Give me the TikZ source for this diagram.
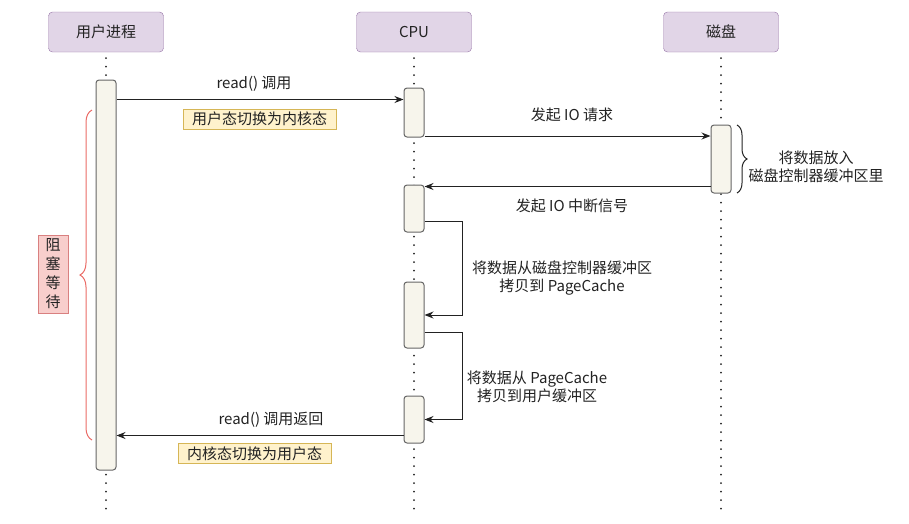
\documentclass[tikz,border=0pt]{standalone}
\usepackage{fontspec}
\setmainfont{Noto Sans CJK SC}
\usetikzlibrary{arrows.meta,decorations.pathreplacing,calc}
\definecolor{actfill}{HTML}{E1D5E7}
\definecolor{actdraw}{HTML}{9673A6}
\definecolor{barfill}{HTML}{F7F5EC}
\definecolor{bardraw}{HTML}{666666}
\definecolor{notefill}{HTML}{FFF2CC}
\definecolor{notedraw}{HTML}{D6B656}
\definecolor{redfill}{HTML}{F8CECC}
\definecolor{reddraw}{HTML}{D98080}
\definecolor{bracered}{HTML}{EA6B66}
\definecolor{ink}{HTML}{222222}
\begin{document}
\begin{tikzpicture}[x=1pt,y=-1pt,
  actor/.style={draw=actdraw,fill=actfill,rounded corners=4pt,minimum width=115pt,minimum height=40pt,inner sep=0pt,font=\fontsize{15}{17}\selectfont,text=ink},
  bar/.style={draw=bardraw,fill=barfill,rounded corners=3pt,minimum width=20pt,inner sep=0pt,line width=1pt},
  lifeline/.style={draw=ink,line width=2pt,line cap=round,dash pattern=on 0pt off 8.5pt},
  msg/.style={draw=ink,line width=1pt,-{Stealth[length=9pt,width=7pt]}},
  lbl/.style={font=\fontsize{15}{18}\selectfont,text=ink,align=center,inner sep=0pt},
  note/.style={draw=notedraw,fill=notefill,font=\fontsize{15}{17}\selectfont,text=ink,inner sep=0pt,minimum height=20pt,minimum width=153pt}
]
\useasboundingbox (0,0) rectangle (909,523);

% actors
\node[actor] (up) at (106,32) {用户进程};
\node[actor] (cpu) at (414,32) {CPU};
\node[actor] (disk) at (721,32) {磁盘};

% lifeline ends
\coordinate (ue) at (106,515);
\coordinate (ce) at (414,515);
\coordinate (de) at (721,515);
\draw[lifeline] ([yshift=-6pt]up.south) -- (ue);
\draw[lifeline] ([yshift=-6pt]cpu.south) -- (ce);
\draw[lifeline] ([yshift=-6pt]disk.south) -- (de);

% activation bars
\node[bar,minimum height=390pt] (ub) at (106,275) {};
\node[bar,minimum height=49pt] (cb1) at (414,112.5) {};
\node[bar,minimum height=47pt] (cb2) at (414,208.5) {};
\node[bar,minimum height=66pt] (cb3) at (414,315) {};
\node[bar,minimum height=47pt] (cb4) at (414,419.5) {};
\node[bar,minimum height=68pt] (db) at (721,159) {};

% message 1
\coordinate (a1) at ([yshift=-12pt]cb1.north west);
\draw[msg] (ub.east |- a1) -- (a1);
\node[lbl] (l1) at (254,84) {read() 调用};
\node[note] (n1) at (259.5,119) {用户态切换为内核态};

% message 2
\coordinate (a2) at ([yshift=1.5pt]cb1.south east);
\draw[msg] (a2) -- (db.west |- a2);
\node[lbl] (l2) at (572,115) {发起 IO 请求};

% message 3
\coordinate (a3) at ([yshift=7pt]db.south west);
\draw[msg] (a3) -- (cb2.east |- a3);
\node[lbl] (l3) at (572,206) {发起 IO 中断信号};

% self message 1
\coordinate (lx) at (462,0);
\coordinate (s1) at ([yshift=11pt]cb2.south east);
\coordinate (e1) at (cb3.east);
\draw[msg] (s1) -- (s1 -| lx) |- (e1);
\node[lbl] (l4) at (562,278) {将数据从磁盘控制器缓冲区\\拷贝到 PageCache};

% self message 2
\coordinate (s2) at ([yshift=16pt]cb3.south east);
\coordinate (e2) at (cb4.east);
\draw[msg] (s2) -- (s2 -| lx) |- (e2);
\node[lbl] (l5) at (537,387) {将数据从 PageCache\\拷贝到用户缓冲区};

% message 6
\coordinate (a6) at ([yshift=8pt]cb4.south west);
\draw[msg] (a6) -- (ub.east |- a6);
\node[lbl] (l6) at (271,420) {read() 调用返回};
\node[note] (n6) at (254.5,453.5) {内核态切换为用户态};

% left brace + blocking note
\coordinate (bl1) at (92,440);
\coordinate (bl2) at (92,110);
\draw[draw=bracered,line width=1pt,decorate,decoration={brace,amplitude=12pt}] (bl1) -- (bl2);
\node[draw=reddraw,fill=redfill,text=ink,font=\fontsize{15}{19}\selectfont,align=center,minimum width=30pt,minimum height=78pt,inner sep=0pt] (blk) at (53,274) {阻\\塞\\等\\待};

% right brace + note
\coordinate (br1) at (737,125);
\coordinate (br2) at (737,193);
\draw[draw=ink,line width=1pt,decorate,decoration={brace,amplitude=10pt}] (br1) -- (br2);
\node[lbl] (l7) at (816,167) {将数据放入\\磁盘控制器缓冲区里};
\end{tikzpicture}
\end{document}
